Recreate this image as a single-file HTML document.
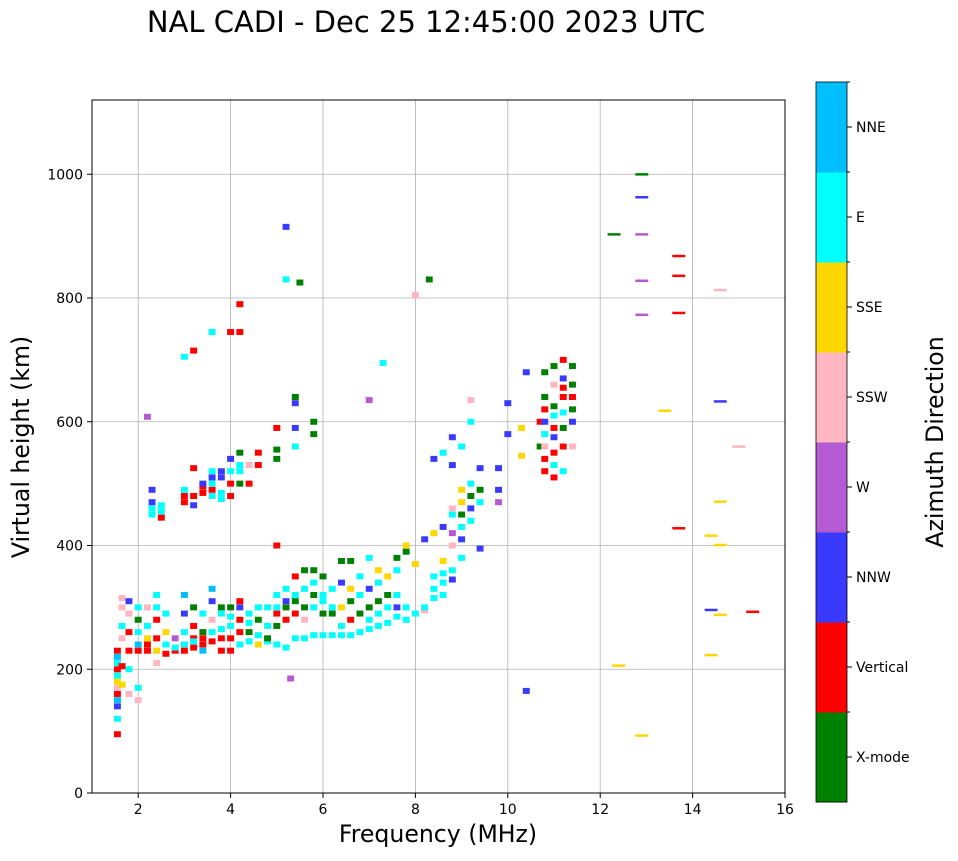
<!DOCTYPE html>
<html><head><meta charset="utf-8">
<style>
body{margin:0;background:#fff;font-family:"DejaVu Sans","Liberation Sans",sans-serif;}
svg text{font-family:"DejaVu Sans","Liberation Sans",sans-serif;fill:#000;}
</style></head>
<body>
<svg id="chart" width="958" height="857" xmlns="http://www.w3.org/2000/svg">
<text x="426" y="32" font-size="29" text-anchor="middle">NAL CADI - Dec 25 12:45:00 2023 UTC</text>
<g id="grid"></g>
<g id="marks"></g>
<rect x="92" y="100" width="693" height="693" fill="none" stroke="#000" stroke-width="1"/>
<g id="axes"></g>
<text x="438" y="842" font-size="23.6" text-anchor="middle">Frequency (MHz)</text>
<text transform="translate(29,447) rotate(-90)" font-size="23.6" text-anchor="middle">Virtual height (km)</text>
<g id="cbar"></g>
<text transform="translate(943,442) rotate(-90)" font-size="23.6" text-anchor="middle">Azimuth Direction</text>
</svg>
<script>
const xTicks=[2,4,6,8,10,12,14,16];
const yTicks=[0,200,400,600,800,1000];
const dirLabels=["X-mode","Vertical","NNW","W","SSW","SSE","E","NNE"];
const dirColors=["#008000","#ff0000","#3a3aff","#b45ad2","#ffb6c1","#ffd700","#00ffff","#00bfff"];
const dirCodes="GRNWPYEB";
const colFreqs=[1.55,1.65,1.8,2.0,2.2,2.3,2.4,2.5,2.6,2.8,3.0,3.2,3.4,3.6,3.8,4.0,4.2,4.4,4.6,4.8,5.0,5.2,5.3,5.4,5.5,5.6,5.8,6.0,6.2,6.4,6.6,6.8,7.0,7.2,7.3,7.4,7.6,7.8,8.0,8.2,8.3,8.4,8.6,8.8,9.0,9.2,9.4,9.8,10.0,10.3,10.4,10.7,10.8,11.0,11.2,11.4,12.3,12.4,12.9,13.4,13.7,14.4,14.6,15.0,15.3];
const colHeights=[
[95,120,140,150,160,170,180,190,200,210,220,230],
[250,270,300,315,175,205],
[160,200,230,260,290,310],
[150,170,230,240,260,280,300],
[230,250,270,300,240,608],
[460,470,450,490],
[210,230,250,280,300,320],
[455,465,445],
[225,240,260,290],
[230,235,250],
[230,240,260,290,320,470,480,490,705],
[235,250,245,270,300,465,480,525,715],
[240,250,230,260,290,485,495,500],
[245,260,280,310,330,480,490,500,510,520,745],
[250,230,265,300,290,475,485,510,520],
[230,250,270,285,300,480,500,520,540,745],
[240,260,280,300,310,500,520,530,550,745,790],
[245,260,275,290,530,500],
[240,255,280,300,530,550],
[245,250,270,300],
[240,270,290,300,320,400,555,590,540],
[235,280,300,330,310,915,830],
[185],
[250,290,310,320,350,560,630,640,590],
[825],
[250,280,300,330,360],
[255,300,320,340,360,600,580],
[255,290,320,350,310],
[255,300,330,290],
[255,270,300,340,375],
[255,280,310,330,375],
[260,290,320,350],
[265,280,300,330,380,635],
[270,290,310,340,360],
[695],
[275,300,320,350],
[285,300,320,360,380],
[280,300,400,390],
[290,370,805],
[295,300,410],
[830],
[315,330,350,420,540],
[320,340,355,375,430,550],
[345,360,400,420,450,460,530,575],
[380,410,430,450,470,490,560],
[440,460,480,500,600,635],
[395,470,490,525],
[470,490,525],
[580,630],
[545,590],
[680,165],
[560,600],
[520,540,560,580,600,620,640,680],
[510,530,550,575,590,610,625,660,690],
[520,560,590,615,640,655,670,700],
[560,600,620,640,660,690],
[900],
[203],
[997,960,900,825,770,90],
[615],
[865,833,773,425],
[413,293,220],
[630,810,468,398,285],
[557],
[290]
];
const colDirs=["RENBRPYEREBR","PEPPYR","PERRPN","PERBEGE","RYEPRW","ENEN","PYRREE","EER","REYE","REW","REENBRREER","RRERGNRRR","RRBGERRN","REPNBERENEER","RREGEEENN","RREEGRRENR","ERRNRGEEGRR","EGEEPR","YEGERR","EGEE","EGREERGRG","ERGENNE","W","ERGERENGN","G","EPGEG","EEGEGGG","EGEGE","EEEG","EEYNG","ERGYG","EGEE","EEGNEW","EEGEY","E","EEGY","ENEEG","EEYG","EYP","PEN","G","EEEYN","EEEYNE","NEPWEPNN","ENEGYYE","ENGEEP","NEGN","WNN","NN","YY","NN","GR","RRPENRGG","RERNREGPG","ERGERRNR","PNGRGG","G","Y","GNWWWY","Y","RRRR","YNY","NPYYY","P","R"];
const X0=92,X1=785,Y0=793,Y1=100;
const xs=f=>X0+(f-1)/(16-1)*(X1-X0);
const ys=h=>Y0-h/1120*(Y0-Y1);
const NS="http://www.w3.org/2000/svg";
function mk(tag,attrs,parent){const e=document.createElementNS(NS,tag);for(const k in attrs)e.setAttribute(k,attrs[k]);parent.appendChild(e);return e;}
const grid=document.getElementById('grid'),axes=document.getElementById('axes'),marks=document.getElementById('marks'),cbar=document.getElementById('cbar');
xTicks.forEach(t=>{const x=xs(t);
 if(t<16){const g=mk('line',{x1:x,x2:x,y1:Y1,y2:Y0,stroke:'#b0b0b0','stroke-width':0.8},grid);
 
 }
 mk('line',{x1:x,x2:x,y1:Y0,y2:Y0+5,stroke:'#000'},axes);
 const l=mk('text',{x:x,y:Y0+21,'font-size':14,'text-anchor':'middle'},axes);l.textContent=t;
 
 });
yTicks.forEach(t=>{const y=ys(t);
 if(t>0){const g=mk('line',{x1:X0,x2:X1,y1:y,y2:y,stroke:'#b0b0b0','stroke-width':0.8},grid);
 
 }
 mk('line',{x1:X0-5,x2:X0,y1:y,y2:y,stroke:'#000'},axes);
 const l=mk('text',{x:X0-9,y:y+5,'font-size':14,'text-anchor':'end'},axes);l.textContent=t;
 
 });
colFreqs.forEach((f,i)=>{const w=f>12?0.28:0.15;
 colHeights[i].forEach((h,j)=>{const d=dirCodes.indexOf(colDirs[i][j]);
  const r=mk('rect',{x:xs(f-w/2),y:ys(h)-3,width:xs(f+w/2)-xs(f-w/2),height:f>12?2.5:6,fill:dirColors[d<0?6:d]},marks);
  
  });});
const cx=816,cw=31,ctop=82,cbot=802,seg=(cbot-ctop)/8;
dirLabels.forEach((lab,i)=>{const y=cbot-(i+1)*seg;
 const r=mk('rect',{x:cx,y:y,width:cw,height:seg+0.5,fill:dirColors[i]},cbar);
 
 
 mk('line',{x1:cx+cw,x2:cx+cw+5,y1:y+seg/2,y2:y+seg/2,stroke:'#000'},cbar);
 mk('line',{x1:cx+cw,x2:cx+cw+3,y1:y,y2:y,stroke:'#000'},cbar);
 const t=mk('text',{x:cx+cw+9,y:y+seg/2+5,'font-size':14},cbar);t.textContent=lab;
 
 });
mk('rect',{x:cx,y:ctop,width:cw,height:cbot-ctop,fill:'none',stroke:'#000','stroke-width':0.8},cbar);
</script>
</body></html>
